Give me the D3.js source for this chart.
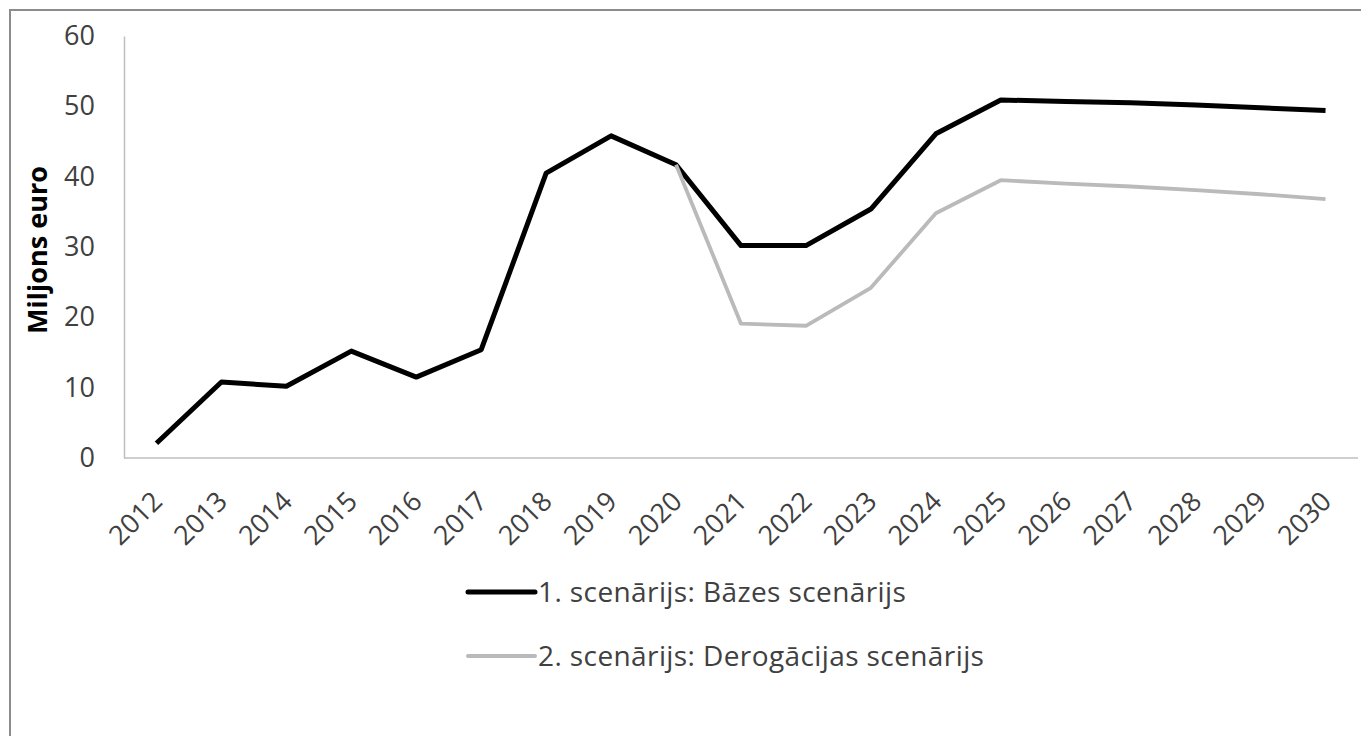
<!DOCTYPE html>
<html><head><meta charset="utf-8">
<script src="https://cdn.jsdelivr.net/npm/d3@7"></script>
<style>body{margin:0;background:#fff;} svg{display:block;}</style>
</head><body>
<svg id="chart" width="1361" height="736"></svg>
<script>
const years = ["2012","2013","2014","2015","2016","2017","2018","2019","2020","2021","2022","2023","2024","2025","2026","2027","2028","2029","2030"];
const baseScenario = [2.1,10.8,10.2,15.2,11.5,15.4,40.5,45.8,41.7,30.2,30.2,35.4,46.1,50.9,50.7,50.5,50.2,49.8,49.4];
const derogationScenario = [null,null,null,null,null,null,null,null,41.7,19.1,18.8,24.2,34.8,39.5,39.0,38.6,38.1,37.5,36.8];
const yTicks = [0,10,20,30,40,50,60];
const seriesNames = ["1. scenārijs: Bāzes scenārijs","2. scenārijs: Derogācijas scenārijs"];
const yTitle = "Miljons euro";

(function(){
const svg = d3.select("#chart");
const font = "'Open Sans', sans-serif";
const pLeft = 124, pRight = 1358, pTop = 36, pBottom = 458;

svg.append("rect").attr("x",10).attr("y",10).attr("width",1400).attr("height",800)
  .attr("fill","none").attr("stroke","#8c8c8c").attr("stroke-width",2);

const x = d3.scalePoint().domain(years).range([pLeft, pRight]).padding(0.5);
const y = d3.scaleLinear().domain([0,60]).range([pBottom, pTop]);

const yAxis = svg.append("g").attr("transform",`translate(${pLeft},0)`)
  .call(d3.axisLeft(y).tickValues(yTicks).tickSize(0).tickPadding(29));
yAxis.select(".domain").attr("stroke","#bfbfbf").attr("stroke-width",1.5);
yAxis.selectAll("text").attr("font-family",font).attr("font-size",27).attr("fill","#404040");

const xAxis = svg.append("g").attr("transform",`translate(0,${pBottom})`)
  .call(d3.axisBottom(x).tickSize(0).tickFormat(d=>d));
xAxis.select(".domain").attr("stroke","#bfbfbf").attr("stroke-width",1.5).attr("d",`M${pLeft},0H${pRight}`);
xAxis.selectAll("text").attr("font-family",font).attr("font-size",27).attr("fill","#404040")
  .attr("text-anchor","end").attr("dy",0)
  .attr("transform","translate(7,45) rotate(-45)")
  .attr("y",0).attr("x",0);

svg.append("text").attr("transform",`translate(47,${(pTop+pBottom)/2+3}) rotate(-90)`)
  .attr("text-anchor","middle").attr("font-family",font).attr("font-weight","bold")
  .attr("font-size",27).attr("fill","#000").text(yTitle);

const line = d3.line().defined(d=>d.v!==null).x(d=>x(d.k)).y(d=>y(d.v));
svg.append("path").datum(years.map((k,i)=>({k,v:baseScenario[i]})))
  .attr("d",line).attr("fill","none").attr("stroke","#000").attr("stroke-width",5).attr("stroke-linejoin","round");
svg.append("path").datum(years.map((k,i)=>({k,v:derogationScenario[i]})))
  .attr("d",line).attr("fill","none").attr("stroke","#bababa").attr("stroke-width",3.8).attr("stroke-linejoin","round");

const legend = [{name:seriesNames[0],color:"#000",w:5,y:592},{name:seriesNames[1],color:"#bababa",w:4,y:656}];
const lg = svg.append("g");
legend.forEach(l=>{
  lg.append("line").attr("x1",468).attr("x2",535).attr("y1",l.y).attr("y2",l.y)
    .attr("stroke",l.color).attr("stroke-width",l.w).attr("stroke-linecap","round");
  lg.append("text").attr("x",538).attr("y",l.y+10)
    .attr("font-family",font).attr("font-size",28).attr("letter-spacing","0.4px")
    .attr("fill","#404040").text(l.name);
});
})();
</script>
</body></html>
